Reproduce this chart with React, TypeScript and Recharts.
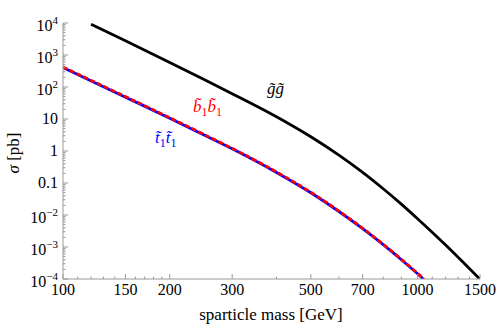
import React from 'react';
import { LineChart, Line, XAxis, YAxis, Customized } from 'recharts';

// Gluino pair production (black)
const gluinoMass = [120, 150, 200, 250, 300, 400, 500, 600, 700, 800, 900, 1000, 1200, 1500];
const gluinoXsec = [9080, 2780, 587, 172, 62, 11.8, 2.79, 0.741, 0.214, 0.0661, 0.0218, 0.00762, 0.00115, 0.000098];

// Sbottom pair production (red dashed)
const sbottomMass = [100, 150, 200, 250, 300, 400, 500, 600, 700, 800, 900, 1000, 1043];
const sbottomXsec = [420, 50, 11, 3.28, 1.21, 0.222, 0.0513, 0.0133, 0.00385, 0.00122, 0.000415, 0.000151, 0.0001];

// Stop pair production (blue solid)
const stopMass = [100, 150, 200, 250, 300, 400, 500, 600, 700, 800, 900, 1000, 1038];
const stopXsec = [405, 48.2, 10.6, 3.16, 1.17, 0.214, 0.0495, 0.01285, 0.00372, 0.00118, 0.000401, 0.000146, 0.0001];

// Axis ticks
const xMajorTicks = [100, 150, 200, 300, 500, 700, 1000, 1500];
const xMinorTicks = [110, 120, 130, 140, 160, 170, 180, 190, 400, 600, 800, 900, 1100, 1200, 1300, 1400];
const yMajorTicks = [1e-4, 1e-3, 1e-2, 0.1, 1, 10, 1e2, 1e3, 1e4];
const yMajorLabels = ['10|−4', '10|−3', '10|−2', '0.1', '1', '10', '10|2', '10|3', '10|4'];
const yMinorMultipliers = [2, 3, 4, 5, 6, 7, 8, 9];

const yMinorTicks: number[] = [];
yMajorTicks.slice(0, -1).forEach((d) => {
  yMinorMultipliers.forEach((m) => yMinorTicks.push(Number((d * m).toPrecision(6))));
});
const xAllTicks = [...xMajorTicks, ...xMinorTicks].sort((a, b) => a - b);
const yAllTicks = [...yMajorTicks, ...yMinorTicks].sort((a, b) => a - b);

const toData = (ms: number[], vs: number[]) => ms.map((m, i) => ({ m, s: vs[i] }));
const gluinoData = toData(gluinoMass, gluinoXsec);
const sbottomData = toData(sbottomMass, sbottomXsec);
const stopData = toData(stopMass, stopXsec);

const AXIS = '#9a9a9a';
const FONT = '"Liberation Serif", "Times New Roman", serif';

const isXMajor = (v: number) => xMajorTicks.includes(v);
const yMajorIndex = (v: number) => yMajorTicks.findIndex((t) => Math.abs(Math.log10(t) - Math.log10(v)) < 1e-6);

const BottomTick = (props: any) => {
  const { x, y, payload } = props;
  const major = isXMajor(payload.value);
  return (
    <g>
      <line x1={x} x2={x} y1={y} y2={y - (major ? 5 : 2.5)} stroke={AXIS} strokeWidth={1} />
      {major && (
        <text x={x} y={y + 16} textAnchor="middle" fontFamily={FONT} fontSize={16} fill="#000">
          {payload.value}
        </text>
      )}
    </g>
  );
};

const TopTick = (props: any) => {
  const { x, y, payload } = props;
  const major = isXMajor(payload.value);
  return <line x1={x} x2={x} y1={y} y2={y + (major ? 5 : 2.5)} stroke={AXIS} strokeWidth={1} />;
};

const LeftTick = (props: any) => {
  const { x, y, payload } = props;
  const idx = yMajorIndex(payload.value);
  const major = idx >= 0;
  let label: React.ReactNode = null;
  if (major) {
    const parts = yMajorLabels[idx].split('|');
    if (parts.length === 2) {
      label = (
        <text x={x - 5} y={y + 8} textAnchor="end" fontFamily={FONT} fontSize={16} fill="#000">
          <tspan>{parts[0]}</tspan>
          <tspan dy={-7} fontSize={11}>{parts[1]}</tspan>
        </text>
      );
    } else {
      label = (
        <text x={x - 5} y={y + 5} textAnchor="end" fontFamily={FONT} fontSize={16} fill="#000">
          {parts[0]}
        </text>
      );
    }
  }
  return (
    <g>
      <line x1={x} x2={x + (major ? 5 : 2.5)} y1={y} y2={y} stroke={AXIS} strokeWidth={1} />
      {label}
    </g>
  );
};

const RightTick = (props: any) => {
  const { x, y, payload } = props;
  const major = yMajorIndex(payload.value) >= 0;
  return <line x1={x} x2={x - (major ? 5 : 2.5)} y1={y} y2={y} stroke={AXIS} strokeWidth={1} />;
};

const Annotations = () => (
  <g fontFamily={FONT}>
    <text x={19} y={153} transform="rotate(-90 19 153)" textAnchor="middle" fontSize={17} fill="#000">
      <tspan fontStyle="italic">σ</tspan>
      <tspan> [pb]</tspan>
    </text>
    <text x={271} y={320} textAnchor="middle" fontSize={17} fill="#000">
      sparticle mass [GeV]
    </text>
    <text x={267} y={94} fontSize={17} fontStyle="italic" fill="#000">
      {'g\u0303g\u0303'}
    </text>
    <text x={193} y={112} fontSize={17} fontStyle="italic" fill="#ff0000">
      <tspan>{'b\u0303'}</tspan>
      <tspan dy={4} fontSize={12} fontStyle="normal">1</tspan>
      <tspan dy={-4}>{'b\u0303'}</tspan>
      <tspan dy={4} fontSize={12} fontStyle="normal">1</tspan>
    </text>
    <text x={155} y={143} fontSize={17} fontStyle="italic" fill="#0000ff">
      <tspan>{'t\u0303'}</tspan>
      <tspan dy={4} fontSize={12} fontStyle="normal">1</tspan>
      <tspan dy={-4}>{'t\u0303'}</tspan>
      <tspan dy={4} fontSize={12} fontStyle="normal">1</tspan>
    </text>
  </g>
);

export default function App() {
  return (
    <div style={{ position: 'absolute', left: 0, top: 0, background: '#fff' }}>
      <LineChart width={498} height={328} margin={{ top: 23, right: 18, bottom: 0, left: 0 }}>
        <XAxis
          dataKey="m"
          type="number"
          scale="log"
          domain={[100, 1500]}
          allowDataOverflow
          ticks={xAllTicks}
          interval={0}
          tick={<BottomTick />}
          tickSize={0}
          tickMargin={0}
          tickLine={false}
          height={49}
          axisLine={{ stroke: AXIS }}
        />
        <XAxis
          xAxisId="top"
          orientation="top"
          dataKey="m"
          type="number"
          scale="log"
          domain={[100, 1500]}
          allowDataOverflow
          ticks={xAllTicks}
          interval={0}
          tick={<TopTick />}
          tickSize={0}
          tickMargin={0}
          tickLine={false}
          height={0}
          axisLine={{ stroke: AXIS }}
        />
        <YAxis
          dataKey="s"
          type="number"
          scale="log"
          domain={[1e-4, 1e4]}
          allowDataOverflow
          ticks={yAllTicks}
          interval={0}
          tick={<LeftTick />}
          tickSize={0}
          tickMargin={0}
          tickLine={false}
          width={63}
          axisLine={{ stroke: AXIS }}
        />
        <YAxis
          yAxisId="right"
          orientation="right"
          dataKey="s"
          type="number"
          scale="log"
          domain={[1e-4, 1e4]}
          allowDataOverflow
          ticks={yAllTicks}
          interval={0}
          tick={<RightTick />}
          tickSize={0}
          tickMargin={0}
          tickLine={false}
          width={0}
          axisLine={{ stroke: AXIS }}
        />
        <Line
          data={gluinoData}
          dataKey="s"
          type="monotone"
          stroke="#000"
          strokeWidth={2.8}
          dot={false}
          isAnimationActive={false}
        />
        <Line
          data={stopData}
          dataKey="s"
          type="monotone"
          stroke="#0000ff"
          strokeWidth={2.8}
          dot={false}
          isAnimationActive={false}
        />
        <Line
          data={sbottomData}
          dataKey="s"
          type="monotone"
          stroke="#ff0000"
          strokeWidth={2.8}
          strokeDasharray="5 2.5"
          dot={false}
          isAnimationActive={false}
        />
        <Customized component={Annotations} />
      </LineChart>
    </div>
  );
}
